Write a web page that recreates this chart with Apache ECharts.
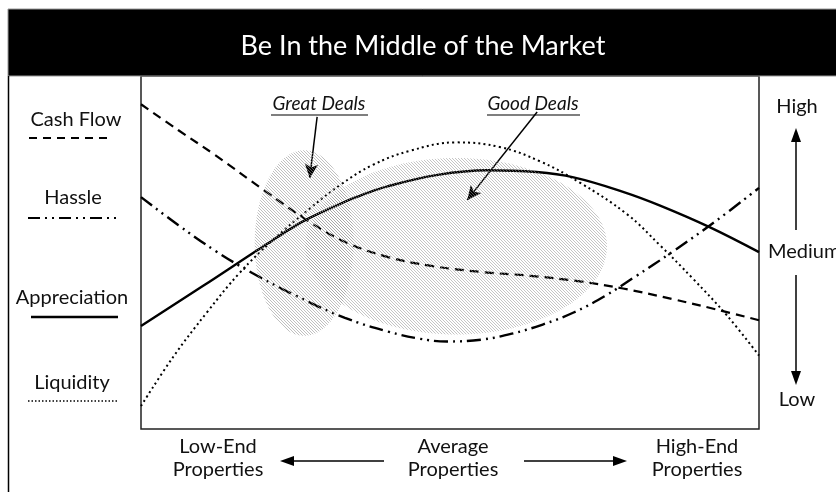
<!DOCTYPE html>
<html>
<head>
<meta charset="utf-8">
<script src="https://cdn.jsdelivr.net/npm/echarts@6/dist/echarts.min.js"></script>
<style>
  html, body { margin: 0; padding: 0; background: #fff; }
  #chart { width: 836px; height: 492px; }
</style>
</head>
<body>
<div id="chart"></div>
<script>
// relative market position (0 = low-end, 100 = high-end) and level (0 = low, 100 = high)
var cashFlowX = [0, 6, 12, 20, 27, 33, 40, 47, 55, 63, 71, 78, 86, 93, 100];
var cashFlowY = [92, 84.7, 77.6, 67.5, 59, 53, 48.7, 46.2, 44.5, 43.4, 41.8, 39.8, 36.8, 33.9, 30.8];

var hassleX = [0, 6, 12, 18, 25, 33, 40, 45, 49.5, 55, 60, 65, 70, 75, 80, 86, 93, 100];
var hassleY = [65.7, 57.8, 50.5, 44.2, 37.8, 31.5, 27.6, 25.6, 24.8, 25.3, 27, 29.6, 33, 37.6, 43.2, 50.2, 58.9, 68.3];

var appreciationX = [0, 10, 20, 26, 30, 35, 40, 48, 56, 64, 70, 78, 84, 92, 100];
var appreciationY = [29.2, 40.5, 52, 58.6, 62, 65.8, 68.8, 72, 73.3, 72.8, 71.3, 67.2, 63.3, 57.2, 50.1];

var liquidityX = [0, 5.2, 10.7, 16, 21.4, 27, 32.2, 37.5, 43.5, 51, 58, 64.6, 71, 78.6, 84, 89.3, 94.8, 100];
var liquidityY = [6.5, 20.4, 33.1, 44.3, 53.6, 62, 69.1, 74.8, 78.8, 81.2, 79.9, 75.8, 69.8, 60.9, 52, 42.6, 32.2, 20.8];

// deal zones: [centre x, centre y, radius x, radius y]
var greatDeals = [26.4, 52.7, 8, 26.3];
var goodDeals = [51, 51.8, 24.4, 25];

var legendNames = ["Cash Flow", "Hassle", "Appreciation", "Liquidity"];

function pairs(xs, ys) {
  return xs.map(function (x, i) { return [x, ys[i]]; });
}

function hatch(gap, color) {
  var c = document.createElement("canvas");
  c.width = gap; c.height = gap;
  var ctx = c.getContext("2d");
  ctx.strokeStyle = color;
  ctx.lineWidth = 1;
  ctx.beginPath();
  ctx.moveTo(0, 0); ctx.lineTo(gap, gap);
  ctx.moveTo(-1, gap - 1); ctx.lineTo(1, gap + 1);
  ctx.moveTo(gap - 1, -1); ctx.lineTo(gap + 1, 1);
  ctx.stroke();
  return { image: c, repeat: "repeat" };
}

var font = "Lato, 'Open Sans', sans-serif";

var chart = echarts.init(document.getElementById("chart"));

function zoneSeries(name, zone, fill) {
  return {
    name: name,
    type: "custom",
    z: 5,
    silent: true,
    data: [zone],
    renderItem: function (params, api) {
      var c = api.coord([api.value(0), api.value(1)]);
      var s = api.size([api.value(2), api.value(3)]);
      return {
        type: "ellipse",
        shape: { cx: c[0], cy: c[1], rx: s[0], ry: s[1] },
        style: { fill: fill, stroke: null }
      };
    }
  };
}

function curve(name, xs, ys, dash, width) {
  return {
    name: name,
    type: "line",
    data: pairs(xs, ys),
    smooth: 0.4,
    symbol: "none",
    z: 3,
    lineStyle: { color: "#000", width: width, type: dash, cap: "butt" }
  };
}

function txt(s, x, y, opts) {
  return {
    type: "text",
    x: x, y: y,
    style: Object.assign({ text: s, font: "20px " + font, fill: "#111", align: "center", verticalAlign: "middle" }, opts || {})
  };
}

function arrowHead(x, y, dir) {
  // dir: up/down/left/right, (x,y) is the tip
  var p;
  if (dir === "up") p = [[x, y], [x - 5, y + 14], [x + 5, y + 14]];
  if (dir === "down") p = [[x, y], [x - 5, y - 14], [x + 5, y - 14]];
  if (dir === "left") p = [[x, y], [x + 14, y - 5], [x + 14, y + 5]];
  if (dir === "right") p = [[x, y], [x - 14, y - 5], [x - 14, y + 5]];
  return { type: "polygon", shape: { points: p }, style: { fill: "#000" } };
}

function seg(x1, y1, x2, y2, w, dash) {
  return { type: "line", shape: { x1: x1, y1: y1, x2: x2, y2: y2 }, style: { stroke: "#000", lineWidth: w || 1.5, lineDash: dash || null } };
}

var graphics = [
  { type: "rect", shape: { x: 8, y: 9, width: 840, height: 67 }, style: { fill: "#000", stroke: "#999", lineWidth: 1 } },
  txt("Be In the Middle of the Market", 423, 46, { fill: "#fff", font: "27px " + font }),
  seg(8.5, 76, 8.5, 492, 1.5),

  txt(legendNames[0], 76, 120),
  seg(29, 138, 113, 138, 2, [8, 6]),
  txt(legendNames[1], 73, 198),
  seg(28, 218, 117, 218, 2, [12, 5, 2, 5, 2, 5]),
  txt(legendNames[2], 72, 298),
  seg(31, 317, 118, 317, 2.5),
  txt(legendNames[3], 72, 383),
  seg(28, 401, 117, 401, 1.5, [1.5, 2]),

  txt("High", 797, 107),
  seg(796, 230, 796, 140, 1.5),
  arrowHead(796, 128, "up"),
  txt("Medium", 768, 252, { align: "left" }),
  seg(796, 275, 796, 372, 1.5),
  arrowHead(796, 385, "down"),
  txt("Low", 797, 400),

  txt("Low-End", 218, 447),
  txt("Properties", 218, 470),
  txt("Average", 453, 447),
  txt("Properties", 453, 470),
  txt("High-End", 697, 447),
  txt("Properties", 697, 470),
  seg(384, 461, 292, 461, 1.5),
  arrowHead(280, 461, "left"),
  seg(524, 461, 615, 461, 1.5),
  arrowHead(627, 461, "right"),

  txt("Great Deals", 319, 104, { font: "italic 19px " + font }),
  seg(271, 115, 368, 115, 1.2),
  txt("Good Deals", 533, 104, { font: "italic 19px " + font }),
  seg(487, 115, 580, 115, 1.2)
];

var option = {
  animation: false,
  backgroundColor: "#fff",
  grid: { left: 141, top: 76, width: 618, height: 353, show: true, borderColor: "#222", borderWidth: 1.5, backgroundColor: "transparent" },
  xAxis: { type: "value", min: 0, max: 100, show: false },
  yAxis: { type: "value", min: 0, max: 100, show: false },
  graphic: graphics,
  series: [
    curve(legendNames[0], cashFlowX, cashFlowY, [9, 6], 2.2),
    curve(legendNames[1], hassleX, hassleY, [14, 5, 2, 5, 2, 5], 2.4),
    curve(legendNames[2], appreciationX, appreciationY, "solid", 2.4),
    curve(legendNames[3], liquidityX, liquidityY, [2, 3.2], 2),
    zoneSeries("Great Deals", greatDeals, hatch(3, "rgba(150,150,150,0.6)")),
    zoneSeries("Good Deals", goodDeals, hatch(3, "rgba(150,150,150,0.55)")),
    {
      type: "line",
      data: [],
      markLine: {
        silent: true,
        symbol: ["none", "arrow"],
        symbolSize: [10, 14],
        label: { show: false },
        lineStyle: { color: "#000", width: 1.5, type: "solid" },
        data: [
          [{ coord: [28.5, 88.4] }, { coord: [27.3, 71.1] }],
          [{ coord: [64.1, 89.8] }, { coord: [52.8, 64.9] }]
        ]
      }
    }
  ]
};

chart.setOption(option);
</script>
</body>
</html>
